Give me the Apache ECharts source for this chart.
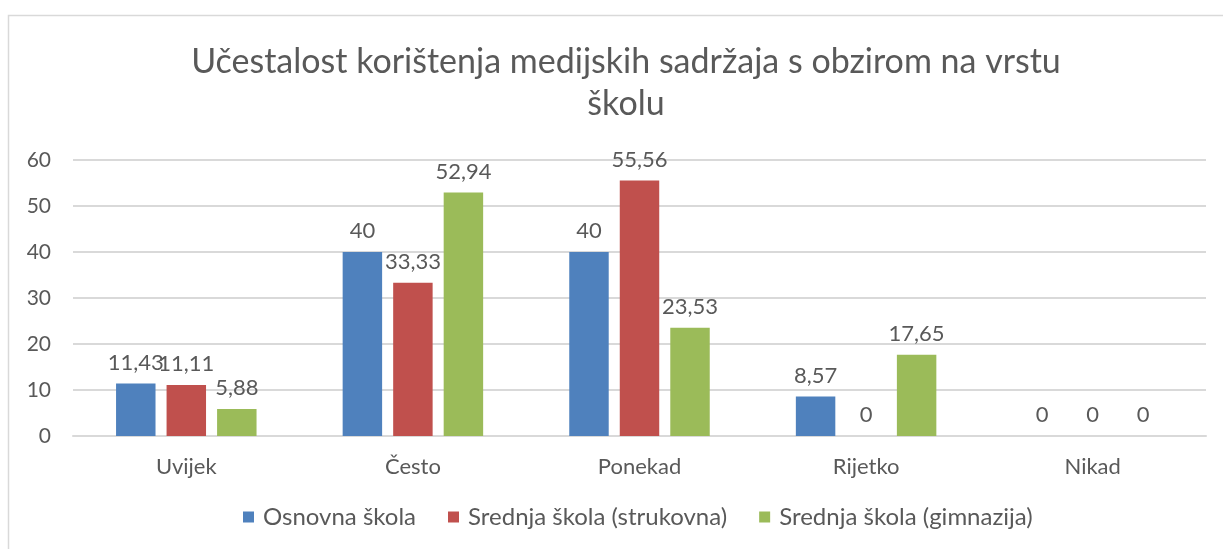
<!DOCTYPE html>
<html>
<head>
<meta charset="utf-8">
<script src="https://cdn.jsdelivr.net/npm/echarts@6/dist/echarts.min.js"></script>
<style>
  html, body { margin: 0; padding: 0; background: #fff; }
  #chart { width: 1223px; height: 549px; }
</style>
</head>
<body>
<div id="chart"></div>
<script>
var categories = ['Uvijek', 'Često', 'Ponekad', 'Rijetko', 'Nikad'];
var seriesNames = ['Osnovna škola', 'Srednja škola (strukovna)', 'Srednja škola (gimnazija)'];
var osnovna = [11.43, 40, 40, 8.57, 0];
var strukovna = [11.11, 33.33, 55.56, 0, 0];
var gimnazija = [5.88, 52.94, 23.53, 17.65, 0];
var colors = ['#4F81BD', '#C0504D', '#9BBB59'];

var textColor = '#595959';
var font = 'Lato, "Open Sans", sans-serif';

var myChart = echarts.init(document.getElementById('chart'));

function makeSeries(name, data, color) {
    return {
        name: name,
        type: 'bar',
        data: data,
        barGap: '28%',
        barCategoryGap: '38%',
        itemStyle: { color: color },
        label: {
            show: true,
            position: 'top',
            distance: 10,
            color: textColor,
            fontSize: 22,
            fontFamily: font,
            formatter: function (p) {
                return String(p.value).replace('.', ',');
            }
        }
    };
}

var option = {
    animation: false,
    backgroundColor: '#fff',
    graphic: [{
        type: 'rect',
        shape: { x: 8.5, y: 15.5, width: 1400, height: 700 },
        style: { fill: 'none', stroke: '#d9d9d9', lineWidth: 1.5 },
        silent: true
    }],
    title: {
        text: 'Učestalost korištenja medijskih sadržaja s obzirom na vrstu\nškolu',
        left: 621,
        top: 36,
        textAlign: 'center',
        textStyle: {
            color: textColor,
            fontSize: 34,
            fontWeight: 'normal',
            fontFamily: font,
            lineHeight: 42
        }
    },
    legend: {
        data: seriesNames,
        bottom: 15,
        left: 238,
        itemWidth: 11,
        itemHeight: 11,
        itemGap: 32,
        icon: 'rect',
        textStyle: { color: textColor, fontSize: 24, fontFamily: font, padding: [0, 0, 0, 4] }
    },
    grid: {
        left: 73,
        right: 17,
        top: 160,
        bottom: 113,
        containLabel: false
    },
    xAxis: {
        type: 'category',
        data: categories,
        axisLine: { lineStyle: { color: '#d9d9d9', width: 2 } },
        axisTick: { show: false },
        axisLabel: { color: textColor, fontSize: 22, fontFamily: font, margin: 20 }
    },
    yAxis: {
        type: 'value',
        min: 0,
        max: 60,
        interval: 10,
        axisLine: { show: false },
        axisTick: { show: false },
        axisLabel: { color: textColor, fontSize: 21, fontFamily: font, margin: 22 },
        splitLine: { lineStyle: { color: '#d9d9d9', width: 2 } }
    },
    series: [
        makeSeries(seriesNames[0], osnovna, colors[0]),
        makeSeries(seriesNames[1], strukovna, colors[1]),
        makeSeries(seriesNames[2], gimnazija, colors[2])
    ]
};

myChart.setOption(option);
</script>
</body>
</html>
